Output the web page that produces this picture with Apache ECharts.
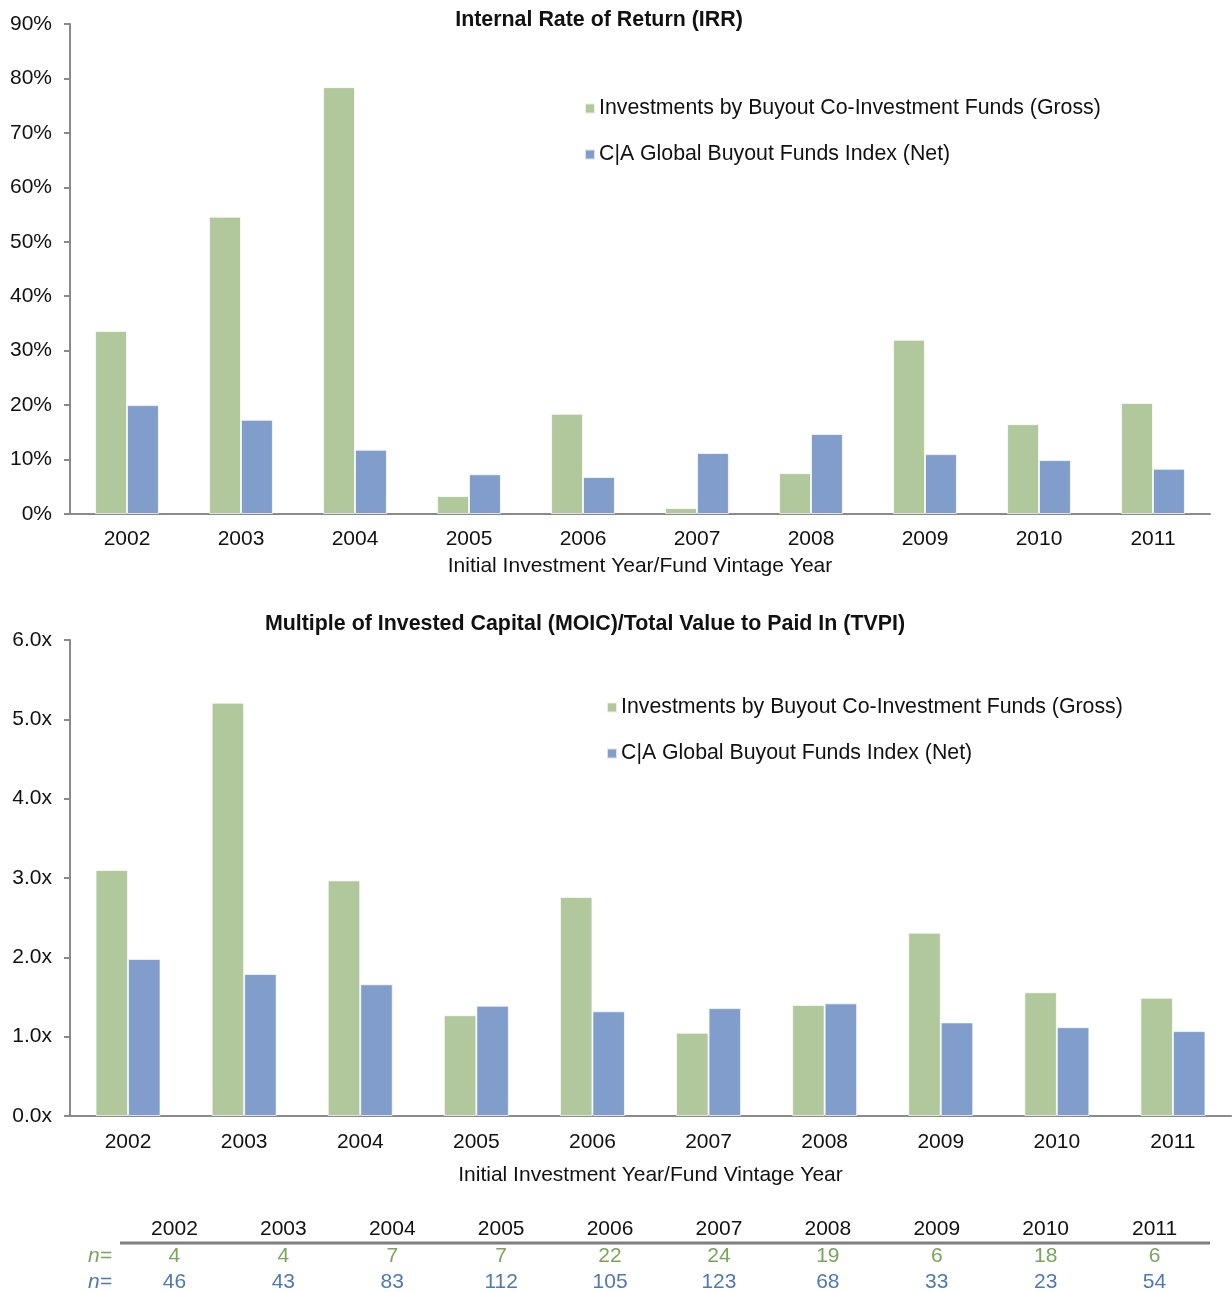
<!DOCTYPE html>
<html>
<head>
<meta charset="utf-8">
<script src="https://cdn.jsdelivr.net/npm/echarts@6/dist/echarts.min.js"></script>
<style>
  html, body { margin: 0; padding: 0; background: #fff; }
  #chart { width: 1232px; height: 1292px; }
</style>
</head>
<body>
<div id="chart"></div>
<script>
const years = ["2002", "2003", "2004", "2005", "2006", "2007", "2008", "2009", "2010", "2011"];
const grossName = "Investments by Buyout Co-Investment Funds (Gross)";
const netName = "C|A Global Buyout Funds Index (Net)";

// IRR, %
const irrGross = [33.6, 54.6, 78.4, 3.3, 18.4, 1.1, 7.5, 32.0, 16.5, 20.4];
const irrNet = [20.0, 17.3, 11.8, 7.3, 6.8, 11.2, 14.7, 11.0, 9.9, 8.3];

// MOIC / TVPI, x
const moicGross = [3.10, 5.21, 2.97, 1.27, 2.76, 1.05, 1.40, 2.31, 1.56, 1.49];
const moicNet = [1.98, 1.79, 1.66, 1.39, 1.32, 1.36, 1.42, 1.18, 1.12, 1.07];

// sample counts
const nGross = [4, 4, 7, 7, 22, 24, 19, 6, 18, 6];
const nNet = [46, 43, 83, 112, 105, 123, 68, 33, 23, 54];

const green = "#b0c89c";
const blue = "#809dcb";
const greenText = "#7aa35c";
const blueText = "#4e78b8";
const font = "Liberation Sans, Arial, sans-serif";
const fs = 21;

const axisGray = "#8a8a8a";

function xAxisFor(gridIndex) {
  return {
    type: "category",
    gridIndex,
    data: years,
    axisLine: { lineStyle: { color: axisGray, width: 2 } },
    axisTick: { show: false },
    axisLabel: { color: "#111", fontSize: fs, fontFamily: font, margin: gridIndex === 0 ? 15 : 16 },
    name: "Initial Investment Year/Fund Vintage Year",
    nameLocation: "middle",
    nameGap: gridIndex === 0 ? 42 : 49,
    nameTextStyle: { color: "#111", fontSize: fs, fontFamily: font },
  };
}

function yAxisFor(gridIndex, max, interval, fmt) {
  return {
    type: "value",
    gridIndex,
    min: 0,
    max,
    interval,
    splitLine: { show: false },
    axisLine: { show: true, lineStyle: { color: axisGray, width: 2 } },
    axisTick: { show: true, length: 6, lineStyle: { color: axisGray, width: 2 } },
    axisLabel: { color: "#111", fontSize: fs, fontFamily: font, margin: 18, formatter: fmt },
  };
}

function barSeries(name, data, color, idx) {
  return {
    name,
    type: "bar",
    xAxisIndex: idx,
    yAxisIndex: idx,
    data,
    barGap: "0%",
    barCategoryGap: "44%",
    itemStyle: { color, borderColor: "rgba(255,255,255,0.7)", borderWidth: 1 },
  };
}

function legendAt(name, left, top) {
  return {
    data: [{ name, icon: "rect" }],
    left,
    top,
    itemWidth: 10,
    itemHeight: 10,
    itemGap: 0,
    padding: 0,
    selectedMode: false,
    textStyle: { color: "#111", fontSize: 21.3, fontFamily: font, padding: [0, 0, 0, -1] },
  };
}

// table below the second chart
const tableLeft = 120;
const colW = 108.9;
const tableGraphics = [];
years.forEach((y, i) => {
  const cx = tableLeft + colW * (i + 0.5);
  tableGraphics.push({
    type: "text", x: cx, y: 1229,
    style: { text: y, fill: "#111", font: fs + "px " + font, textAlign: "center", textVerticalAlign: "middle" },
  });
  tableGraphics.push({
    type: "text", x: cx, y: 1256,
    style: { text: String(nGross[i]), fill: greenText, font: fs + "px " + font, textAlign: "center", textVerticalAlign: "middle" },
  });
  tableGraphics.push({
    type: "text", x: cx, y: 1282,
    style: { text: String(nNet[i]), fill: blueText, font: fs + "px " + font, textAlign: "center", textVerticalAlign: "middle" },
  });
});
tableGraphics.push({
  type: "line",
  shape: { x1: tableLeft, y1: 1243, x2: 1210, y2: 1243 },
  style: { stroke: "#7f7f7f", lineWidth: 3 },
});
tableGraphics.push({
  type: "text", x: 112, y: 1256,
  style: { text: "n=", fill: greenText, font: "italic " + fs + "px " + font, textAlign: "right", textVerticalAlign: "middle" },
});
tableGraphics.push({
  type: "text", x: 112, y: 1282,
  style: { text: "n=", fill: blueText, font: "italic " + fs + "px " + font, textAlign: "right", textVerticalAlign: "middle" },
});

const option = {
  backgroundColor: "#fff",
  animation: false,
  title: [
    {
      text: "Internal Rate of Return (IRR)",
      left: 594,
      top: 5,
      textAlign: "center",
      textStyle: { fontSize: 21.4, fontWeight: "bold", color: "#111", fontFamily: font },
    },
    {
      text: "Multiple of Invested Capital (MOIC)/Total Value to Paid In (TVPI)",
      left: 580,
      top: 609,
      textAlign: "center",
      textStyle: { fontSize: 21.4, fontWeight: "bold", color: "#111", fontFamily: font },
    },
  ],
  legend: [
    legendAt(grossName, 584, 98),
    legendAt(netName, 584, 144),
    legendAt(grossName, 606, 697),
    legendAt(netName, 606, 743),
  ],
  grid: [
    { left: 70, top: 24, width: 1140, height: 490 },
    { left: 70, top: 640, width: 1161, height: 476 },
  ],
  xAxis: [xAxisFor(0), xAxisFor(1)],
  yAxis: [
    yAxisFor(0, 90, 10, (v) => v + "%"),
    yAxisFor(1, 6, 1, (v) => v.toFixed(1) + "x"),
  ],
  series: [
    barSeries(grossName, irrGross, green, 0),
    barSeries(netName, irrNet, blue, 0),
    barSeries(grossName, moicGross, green, 1),
    barSeries(netName, moicNet, blue, 1),
  ],
  graphic: tableGraphics,
};

const chart = echarts.init(document.getElementById("chart"));
chart.setOption(option);
</script>
</body>
</html>
